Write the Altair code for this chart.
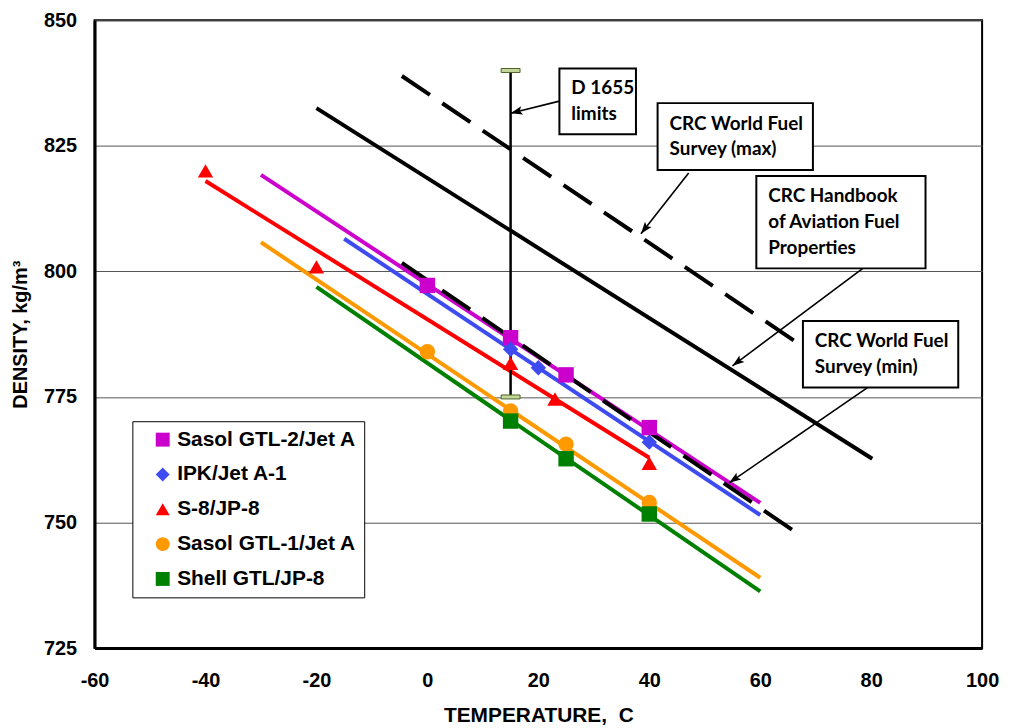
import math
import altair as alt
import pandas as pd

# ---------------- data ----------------
series_names = ["Sasol GTL-2/Jet A", "IPK/Jet A-1", "S-8/JP-8", "Sasol GTL-1/Jet A", "Shell GTL/JP-8"]
series_colors = ["#CC00CC", "#3D4BF0", "#FF0000", "#FF9900", "#008000"]
series_shapes = ["square", "diamond", "triangle-up", "circle", "square"]

# fitted lines (start / end)
fit_T_start = [-30, -15, -40, -30, -20]
fit_D_start = [819.2, 806.5, 818.0, 805.8, 796.9]
fit_T_end = [60, 60, 40, 60, 60]
fit_D_end = [753.9, 751.5, 762.9, 739.0, 736.3]

# measured points
gtl2_T = [0, 15, 25, 40]
gtl2_D = [797.2, 786.8, 779.4, 768.9]
ipk_T = [15, 20, 40]
ipk_D = [784.5, 780.8, 766.0]
s8_T = [-40, -20, 15, 23, 40]
s8_D = [820.0, 800.9, 781.7, 774.6, 761.8]
gtl1_T = [0, 15, 25, 40]
gtl1_D = [784.0, 772.2, 765.6, 754.0]
shell_T = [15, 25, 40]
shell_D = [770.2, 762.7, 751.7]

# reference lines
handbook_T = [-20, 80.2]
handbook_D = [832.5, 762.7]
survey_max_T = [-4.6, 66.8]
survey_max_D = [838.9, 785.7]
survey_min_T = [-4.6, 66.6]
survey_min_D = [801.7, 747.9]
d1655_T = 15
d1655_D = [775, 840]

# annotations (data coordinates)
note_text = ["D 1655\nlimits", "CRC World Fuel\nSurvey (max)",
             "CRC Handbook\nof Aviation Fuel\nProperties", "CRC World Fuel\nSurvey (min)"]
note_T1 = [23.8, 41.5, 59.3, 67.7]
note_T2 = [37.6, 69.5, 89.8, 95.7]
note_D1 = [840.4, 833.5, 819.0, 790.1]
note_D2 = [827.3, 820.2, 800.6, 776.9]
arrow_T0 = [23.8, 47.1, 78.5, 79.4]
arrow_D0 = [833.9, 819.6, 800.6, 776.9]
arrow_T1 = [15.0, 38.5, 55.0, 54.4]
arrow_D1 = [831.5, 807.5, 781.2, 757.9]

x_ticks = [-60, -40, -20, 0, 20, 40, 60, 80, 100]
y_ticks = [725, 750, 775, 800, 825, 850]

# ---------------- layout ----------------
W, H = 892, 631
XMIN, XMAX, YMIN, YMAX = -60, 100, 725, 850
AX_FONT = "Liberation Sans"
NOTE_FONT = "Lato"
LINE_H = 26

sx, sy = W / (XMAX - XMIN), H / (YMAX - YMIN)

# ---------------- tables ----------------
pt_rows = []
for n, Ts, Ds in zip(series_names, [gtl2_T, ipk_T, s8_T, gtl1_T, shell_T],
                     [gtl2_D, ipk_D, s8_D, gtl1_D, shell_D]):
    for t, d in zip(Ts, Ds):
        pt_rows.append({"series": n, "T": t, "D": d})
pt_df = pd.DataFrame(pt_rows)

solid_df = pd.DataFrame({"T": handbook_T, "D": handbook_D})
dash_df = pd.DataFrame({
    "name": ["max"] * 2 + ["min"] * 2,
    "T": survey_max_T + survey_min_T,
    "D": survey_max_D + survey_min_D,
})
d1655_df = pd.DataFrame({"T": [d1655_T], "D": [d1655_D[0]], "D2": [d1655_D[1]]})
cap_df = pd.DataFrame({"T": [d1655_T, d1655_T], "D": d1655_D})

note_df = pd.DataFrame({"text": note_text, "T": note_T1, "T2": note_T2,
                        "D": note_D1, "D2": note_D2})
nlines = note_df["text"].str.count("\n")
note_df["Dm"] = (note_df["D"] + note_df["D2"]) / 2 + nlines * (LINE_H / 2) / sy

angles = []
for t0, d0, t1, d1 in zip(arrow_T0, arrow_D0, arrow_T1, arrow_D1):
    dxp = (t1 - t0) * sx
    dyp = -(d1 - d0) * sy
    angles.append(math.degrees(math.atan2(dxp, -dyp)) % 360)
arrow_df = pd.DataFrame({"T": arrow_T0, "D": arrow_D0, "T2": arrow_T1, "D2": arrow_D1,
                         "angle": angles})

# ---------------- encodings ----------------
xscale = alt.Scale(domain=[XMIN, XMAX], nice=False, zero=False)
yscale = alt.Scale(domain=[YMIN, YMAX], nice=False, zero=False)

hyphen_expr = "datum.value < 0 ? '-' + abs(datum.value) : '' + datum.value"
x_axis = alt.Axis(values=x_ticks, title="TEMPERATURE,\u00a0 C", grid=False, ticks=False,
                  labelPadding=23, domainColor="black", domainWidth=3, labelExpr=hyphen_expr,
                  labelFont=AX_FONT, labelFontSize=20, labelFontWeight="bold", labelColor="black",
                  titleFont=AX_FONT, titleFontSize=21, titleFontWeight="bold", titleColor="black",
                  titleY=74, titleBaseline="alphabetic", labelFlush=False)
y_axis = alt.Axis(values=y_ticks, title="DENSITY, kg/m³", grid=True, gridColor="#555555",
                  gridWidth=1, ticks=False, labelPadding=18, domainColor="black", domainWidth=3,
                  labelFont=AX_FONT, labelFontSize=20, labelFontWeight="bold", labelColor="black",
                  titleFont=AX_FONT, titleFontSize=20, titleFontWeight="bold", titleColor="black",
                  titleX=-68, titleBaseline="alphabetic", labelFlush=False)


def X(f="T"):
    return alt.X(f"{f}:Q", scale=xscale, axis=x_axis)


def Y(f="D"):
    return alt.Y(f"{f}:Q", scale=yscale, axis=y_axis)


fit_layers = []
for i, n in enumerate(series_names):
    df = pd.DataFrame({"T": [fit_T_start[i], fit_T_end[i]], "D": [fit_D_start[i], fit_D_end[i]]})
    fit_layers.append(
        alt.Chart(df).mark_line(strokeWidth=4, color=series_colors[i]).encode(x=X(), y=Y())
    )

handbook = alt.Chart(solid_df).mark_line(strokeWidth=4, color="black").encode(x=X(), y=Y())
surveys = alt.Chart(dash_df).mark_line(strokeWidth=4, color="black", strokeDash=[34, 15]).encode(
    x=X(), y=Y(), detail="name:N")

d1655 = alt.Chart(d1655_df).mark_rule(strokeWidth=2.5, color="black").encode(
    x=X(), y=Y(), y2="D2:Q")
caps = alt.Chart(cap_df).mark_tick(orient="horizontal", size=19, thickness=4,
                                   color="#C4D79B", stroke="#4F6228", strokeWidth=1,
                                   opacity=1).encode(x=X(), y=Y())

cscale = alt.Scale(domain=series_names, range=series_colors)
shscale = alt.Scale(domain=series_names, range=series_shapes)
legend = alt.Legend(orient="none", legendX=38, legendY=403, title=None,
                    labelFont=AX_FONT, labelFontSize=21, labelFontWeight="bold",
                    labelColor="black", labelLimit=400, rowPadding=13, padding=8,
                    symbolSize=196, symbolOffset=12, labelOffset=4)

markers = alt.Chart(pt_df).mark_point(filled=True, opacity=1, size=240).encode(
    x=X(), y=Y(),
    color=alt.Color("series:N", scale=cscale, legend=legend),
    shape=alt.Shape("series:N", scale=shscale, legend=legend),
)

arrows = alt.Chart(arrow_df).mark_rule(strokeWidth=1.6, color="black").encode(
    x=X(), y=Y(), x2="T2:Q", y2="D2:Q")
heads = alt.Chart(arrow_df).mark_point(
    shape="M0,0L-0.6,1.7L0,1.35L0.6,1.7Z", filled=True, color="black", opacity=1, size=196
).encode(x=alt.X("T2:Q", scale=xscale, axis=x_axis), y=alt.Y("D2:Q", scale=yscale, axis=y_axis),
         angle=alt.Angle("angle:Q", scale=None))

boxes = alt.Chart(note_df).mark_rect(fill="white", stroke="black", strokeWidth=2).encode(
    x=X(), x2="T2:Q", y=Y(), y2="D2:Q")
texts = alt.Chart(note_df).mark_text(
    align="left", baseline="middle", dx=12, lineBreak="\n", lineHeight=LINE_H,
    font=NOTE_FONT, fontSize=19, fontWeight="bold", color="black"
).encode(x=X(), y=Y("Dm"), text="text:N")

chart = alt.layer(
    *fit_layers, handbook, surveys, d1655, caps, markers, arrows, heads, boxes, texts
).properties(
    width=W, height=H,
    background="white",
    autosize=alt.AutoSizeParams(type="none"),
    padding={"left": 87, "top": 10.5, "right": 20, "bottom": 80},
).configure_view(
    stroke="black", strokeWidth=2
).configure_legend(
    fillColor="white", strokeColor="black", padding=8,
    rowPadding=13, symbolSize=196, symbolOffset=12, labelOffset=4,
    symbolStrokeWidth=0, labelFont=AX_FONT, labelFontSize=21,
    labelFontWeight="bold", labelColor="black", labelLimit=400,
)

chart.save("out.html", embed_options={"renderer": "svg", "actions": False})
